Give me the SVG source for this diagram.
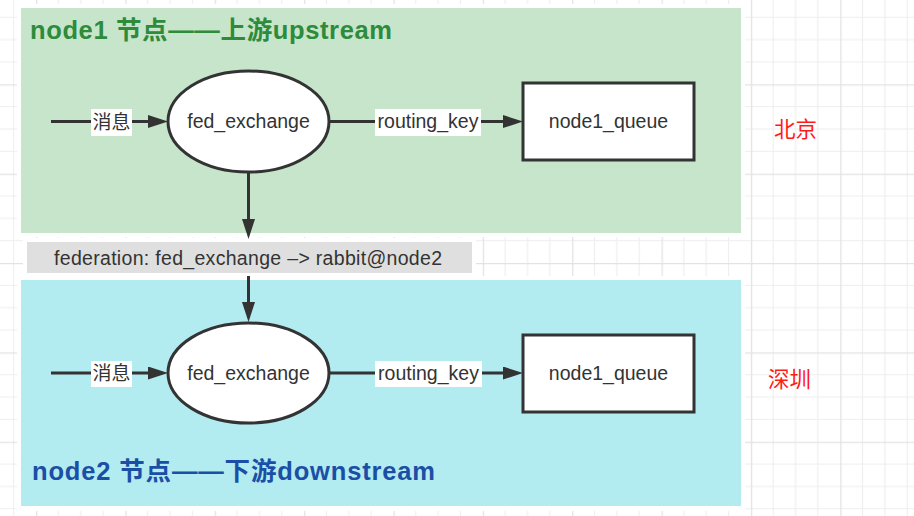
<svg xmlns="http://www.w3.org/2000/svg" width="914" height="516" viewBox="0 0 914 516">
<style>
.zone-label{font-family:"Liberation Sans","Noto Sans CJK SC",sans-serif;font-weight:bold;font-size:25.5px}
.node-text{font-family:"Liberation Sans","Noto Sans CJK SC",sans-serif;font-size:19.5px;fill:#333;text-anchor:middle}
.edge-label{font-family:"Liberation Sans","Noto Sans CJK SC",sans-serif;font-size:19.5px;fill:#333;text-anchor:middle}
.cjk-label{font-family:"Noto Sans CJK SC",sans-serif;font-size:19px;fill:#333;text-anchor:middle}
.city{font-family:"Noto Sans CJK SC",sans-serif;font-size:21.5px;fill:#ff1a1a}
.shape{fill:#fff;stroke:#333;stroke-width:3}
.edge{fill:none;stroke:#333;stroke-width:3}
.label-bg{fill:#fff}
</style>
<defs>
<pattern id="grid" patternUnits="userSpaceOnUse" x="36" y="-5.06" width="89.36" height="89.36">
<path d="M22.34,0V89.36M44.68,0V89.36M67.02,0V89.36M0,22.34H89.36M0,44.68H89.36M0,67.02H89.36" stroke="#eeeeee" stroke-width="1.2" fill="none"/>
<path d="M0.5,0V89.36M0,0.5H89.36" stroke="#e3e3e3" stroke-width="1.6" fill="none"/>
</pattern>
<marker id="arrow" markerUnits="userSpaceOnUse" viewBox="0 0 20 13" refX="10" refY="6.5" markerWidth="20" markerHeight="13" orient="auto">
<path d="M0,0L20,6.5L0,13z" fill="#333"/>
</marker>
</defs>
<rect width="914" height="516" fill="#fff"/>
<rect width="914" height="516" fill="url(#grid)"/>
<!-- white margins -->
<rect x="17" y="4" width="728" height="233" fill="#fff"/>
<rect x="23" y="238" width="453" height="39" fill="#fff"/>
<rect x="17" y="276" width="728" height="235" fill="#fff"/>

<g id="zone-upstream">
<rect x="21" y="8" width="720" height="225" fill="#c7e5ca"/>
<text class="zone-label" x="30" y="39" fill="#2e8b3c" textLength="362" lengthAdjust="spacing">node1 节点——上游upstream</text>
</g>
<g id="federation-bar">
<rect x="27" y="242" width="445" height="31" fill="#dfdfdf"/>
<text class="edge-label" x="248" y="265" font-size="20" textLength="388" lengthAdjust="spacing">federation: fed_exchange –&gt; rabbit@node2</text>
</g>
<g id="zone-downstream">
<rect x="21" y="280" width="720" height="226" fill="#b2ebf0"/>
<text class="zone-label" x="32" y="480" fill="#1b4fa6" textLength="403" lengthAdjust="spacing">node2 节点——下游downstream</text>
</g>

<g id="connectors">
<path class="edge" d="M51,121.5H158" marker-end="url(#arrow)"/>
<path class="edge" d="M329,121.5H513" marker-end="url(#arrow)"/>
<path class="edge" d="M248.5,172V229" marker-end="url(#arrow)"/>
<path class="edge" d="M248.5,276V312" marker-end="url(#arrow)"/>
<path class="edge" d="M51,373H158" marker-end="url(#arrow)"/>
<path class="edge" d="M329,373H513" marker-end="url(#arrow)"/>
<rect class="label-bg" x="91" y="109" width="41" height="27"/>
<text class="cjk-label" x="111.5" y="129">消息</text>
<rect class="label-bg" x="375" y="109" width="106" height="27"/>
<text class="edge-label" x="428" y="128">routing_key</text>
<rect class="label-bg" x="91" y="361" width="41" height="26"/>
<text class="cjk-label" x="111.5" y="380">消息</text>
<rect class="label-bg" x="375" y="361" width="107" height="26"/>
<text class="edge-label" x="428.5" y="380">routing_key</text>
</g>

<g id="node1-exchange">
<ellipse class="shape" cx="248.5" cy="121.5" rx="80.5" ry="50.5"/>
<text class="node-text" x="248.5" y="128">fed_exchange</text>
</g>
<g id="node1-queue">
<rect class="shape" x="523" y="83" width="171" height="77"/>
<text class="node-text" x="608.5" y="128">node1_queue</text>
</g>
<g id="node2-exchange">
<ellipse class="shape" cx="248.5" cy="373" rx="80.5" ry="50"/>
<text class="node-text" x="248.5" y="380">fed_exchange</text>
</g>
<g id="node2-queue">
<rect class="shape" x="523" y="335" width="171" height="77"/>
<text class="node-text" x="608.5" y="380">node1_queue</text>
</g>

<g id="city-beijing">
<text class="city" x="774" y="137">北京</text>
</g>
<g id="city-shenzhen">
<text class="city" x="768" y="387">深圳</text>
</g>
</svg>
